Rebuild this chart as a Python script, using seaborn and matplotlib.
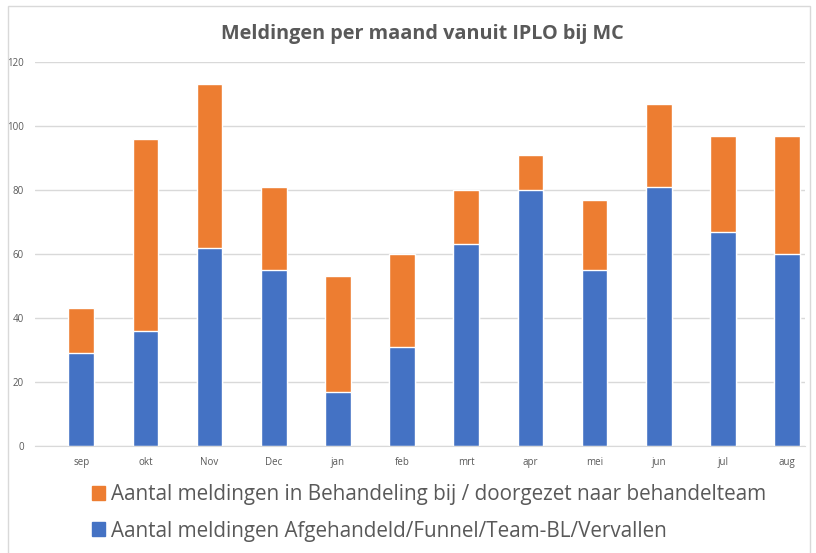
import matplotlib
matplotlib.use("Agg")
import matplotlib.pyplot as plt
import seaborn as sns
import pandas as pd
from matplotlib.patches import Rectangle, Patch

months = ["sep", "okt", "Nov", "Dec", "jan", "feb", "mrt", "apr", "mei", "jun", "jul", "aug"]
afgehandeld = [29, 36, 62, 55, 17, 31, 63, 80, 55, 81, 67, 60]
in_behandeling = [14, 60, 51, 26, 36, 29, 17, 11, 22, 26, 30, 37]

label_orange = "Aantal meldingen in Behandeling bij / doorgezet naar behandelteam"
label_blue = "Aantal meldingen Afgehandeld/Funnel/Team-BL/Vervallen"
blue = "#4472C4"
orange = "#ED7D31"
grey = "#595959"

df = pd.DataFrame({"maand": months, "afgehandeld": afgehandeld, "behandeling": in_behandeling})
df["totaal"] = df["afgehandeld"] + df["behandeling"]

sns.set_style("white")
plt.rcParams["font.family"] = ["Open Sans", "DejaVu Sans"]

fig = plt.figure(figsize=(8.16, 5.53), dpi=100)
ax = fig.add_axes([35 / 816, 107 / 553, 770 / 816, 384 / 553])

sns.barplot(data=df, x="maand", y="totaal", color=orange, width=0.40, saturation=1, ax=ax)
sns.barplot(data=df, x="maand", y="afgehandeld", color=blue, width=0.40, saturation=1, ax=ax)

ax.set_ylim(0, 120)
ax.set_xlim(-0.72, 11.28)
ax.set_yticks(range(0, 121, 20))
ax.grid(axis="y", color="#D9D9D9", linewidth=1)
ax.set_axisbelow(True)
for s in ["top", "right", "left"]:
    ax.spines[s].set_visible(False)
ax.spines["bottom"].set_color("#D9D9D9")
ax.tick_params(axis="both", length=0, labelsize=7, colors=grey, pad=8)
ax.set_xlabel("")
ax.set_ylabel("")

fig.text(0.518, 0.939, "Meldingen per maand vanuit IPLO bij MC", ha="center", va="center",
         fontsize=14.3, fontweight="bold", color=grey)

handles = [Patch(color=orange), Patch(color=blue)]
fig.legend(handles, [label_orange, label_blue], loc="upper left", bbox_to_anchor=(92 / 816, 69 / 553),
           frameon=False, fontsize=14.9, labelcolor=grey, handlelength=0.65, handleheight=0.65,
           handletextpad=0.25, labelspacing=0.75, borderaxespad=0, borderpad=0)

fig.patches.append(Rectangle((8 / 816, -0.05), 802 / 816, 1.04, transform=fig.transFigure,
                             fill=False, edgecolor="#D9D9D9", linewidth=1))

fig.savefig("out.png", dpi=100)
